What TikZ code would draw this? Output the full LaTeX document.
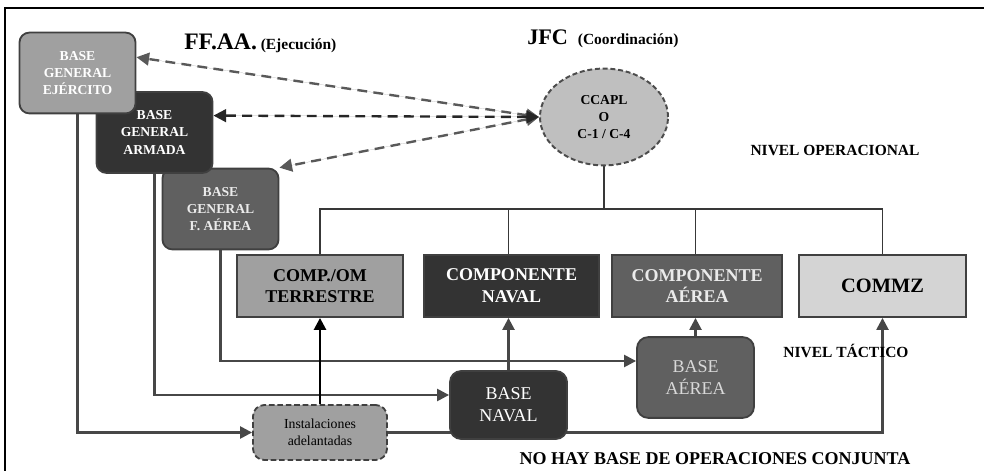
\documentclass[tikz,border=0pt]{standalone}
\usepackage{fontspec}
\setmainfont{Liberation Serif}
\usepackage{xcolor}
\usetikzlibrary{arrows.meta,shapes.geometric,backgrounds}
\definecolor{lightg}{HTML}{A0A0A0}
\definecolor{midg}{HTML}{606060}
\definecolor{darkg}{HTML}{333333}
\definecolor{paleg}{HTML}{D4D4D4}
\definecolor{ovalg}{HTML}{BFBFBF}
\tikzset{
  genbase/.style={draw=black!75,line width=1.3pt,rounded corners=7pt,minimum width=2.9cm,minimum height=2.02cm,align=center,font=\bfseries\fontsize{9.7}{12.2}\selectfont,text=white},
  comp/.style={draw=black!75,line width=1.3pt,minimum height=1.55cm,align=center,font=\bfseries\fontsize{12.8}{15.4}\selectfont},
  base/.style={draw=black!75,line width=1.3pt,rounded corners=8pt,minimum width=2.925cm,align=center,font=\fontsize{12.8}{15.4}\selectfont},
  link/.style={draw=black!72,line width=1.7pt,-{Triangle[length=8.5pt,width=8.5pt]}},
  busline/.style={draw=black!78,line width=1pt},
  order/.style={dash pattern=on 7pt off 4.5pt,line width=1.7pt,{Triangle[length=9pt,width=9pt]}-{Triangle[length=9pt,width=9pt]}},
  lbl/.style={font=\bfseries\fontsize{11}{13}\selectfont,inner sep=0pt}
}
\begin{document}
\begin{tikzpicture}[x=0.025cm,y=-0.025cm]
\useasboundingbox (0,0) rectangle (984,471);
\draw[line width=1.8pt] (5,471) -- (5,8) -- (984,8);

\node[lbl,anchor=base west] (ffaa) at (184,50) {{\fontsize{16.8}{18}\selectfont FF.AA.} (Ejecución)};
\node[lbl,anchor=base west] (jfc) at (527,45) {{\fontsize{15.8}{18}\selectfont JFC}\hspace{7pt}(Coordinación)};
\node[lbl,anchor=base] (nivop) at (835,156) {NIVEL OPERACIONAL};
\node[lbl,anchor=base] (nivtac) at (846,357) {NIVEL TÁCTICO};
\node[lbl,anchor=base,font=\bfseries\fontsize{12.8}{14}\selectfont] (nobase) at (715,464) {NO HAY BASE DE OPERACIONES CONJUNTA};

\node[draw=black!70,dash pattern=on 3.5pt off 2pt,line width=1.4pt,ellipse,fill=ovalg,minimum width=3.2cm,minimum height=2.42cm,align=center,font=\bfseries\fontsize{9.7}{11.8}\selectfont] (ccapl) at (604,117) {CCAPL\\O\\C-1 / C-4};

\node[genbase,fill=midg,text=white!92!black] (fae) at (220.5,209) {BASE\\GENERAL\\F. AÉREA};
\node[genbase,fill=darkg] (armada) at (154.5,132.5) {BASE\\GENERAL\\ARMADA};
\node[genbase,fill=lightg] (ejer) at (77.5,73) {BASE\\GENERAL\\EJÉRCITO};

\node[comp,fill=lightg,minimum width=4.15cm] (terr) at (320,286) {COMP./OM\\TERRESTRE};
\node[comp,fill=darkg,text=white,minimum width=4.375cm] (navc) at (511.5,286) {COMPONENTE\\NAVAL};
\node[comp,fill=midg,text=white!92!black,minimum width=4.25cm] (aerc) at (697,286) {COMPONENTE\\AÉREA};
\node[comp,fill=paleg,minimum width=4.175cm,font=\bfseries\fontsize{14.5}{16}\selectfont] (commz) at (882.5,286) {COMMZ};

\node[base,fill=midg,text=white!85!black,minimum height=2.02cm] (aerb) at (695.5,377.5) {BASE\\AÉREA};
\node[base,fill=darkg,text=white,minimum height=1.7cm] (navb) at (508.5,405) {BASE\\NAVAL};
\node[base,fill=lightg,dash pattern=on 4pt off 2pt,minimum width=3.35cm,minimum height=1.375cm,font=\fontsize{9.8}{11.8}\selectfont] (inst) at (320,432.5) {Instalaciones\\adelantadas};

\begin{scope}[on background layer]
\coordinate (bus) at (0,209);
\draw[busline] (ccapl.south) -- (ccapl.south |- bus);
\draw[busline] (terr.north) |- (commz.north |- bus) -- (commz.north);
\draw[busline] (navb.north |- navc.north) -- (navb.north |- bus);
\draw[busline] (aerb.north |- aerc.north) -- (aerb.north |- bus);

\draw[link] (ejer.south) |- (inst.west);
\draw[link] (armada.south) |- (navb.west |- 0,395);
\draw[link] (fae.south) |- (aerb.west |- 0,361);
\draw[link] (inst.east) -| (commz.south);
\draw[link] (navb.north) -- (navb.north |- navc.south);
\draw[link] (aerb.north) -- (aerb.north |- aerc.south);
\draw[-{Triangle[length=8.5pt,width=8.5pt]},line width=1.8pt] (inst.north) -- (terr.south);
\end{scope}

\draw[order,draw=black!65,fill=black!65] (ccapl.west) -- (ejer.15);
\draw[order,draw=black!65,fill=black!65] (ccapl.west) -- (fae.north east);
\draw[order,draw=black!85,fill=black!85] (ccapl.west) -- (armada.16);
\end{tikzpicture}
\end{document}
